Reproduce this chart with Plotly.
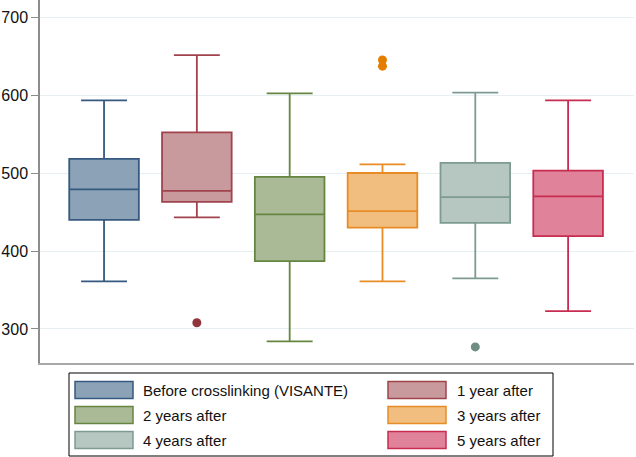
import plotly.graph_objects as go

names = ["Before crosslinking (VISANTE)", "1 year after", "2 years after",
         "3 years after", "4 years after", "5 years after"]
lower = [361, 443, 284, 361, 365, 323]
q1 = [440, 463, 387, 430, 436, 419]
median = [479, 477, 447, 451, 469, 470]
q3 = [518, 552, 495, 500, 513, 503]
upper = [593, 651, 602, 511, 603, 593]
outlier_x = [1, 3, 3, 4]
outlier_y = [308, 637, 645, 277]

fills = ["#8ca3b7", "#c89a9d", "#aaba97", "#f1be7f", "#b6c6c1", "#e0829a"]
lines = ["#35597f", "#a0434d", "#668540", "#e88c26", "#7e9b92", "#c62d50"]
dots = ["#1a476f", "#90353b", "#55752f", "#e37e00", "#6e8e84", "#c10534"]
yticks = [300, 400, 500, 600, 700]

W, H = 636, 457
L, R, T, B = 40, 2, 0, 94
pw, ph = W - L - R, H - T - B


def px_x(p):
    return (p - L) / pw


def px_y(p):
    return (H - B - p) / ph


fig = go.Figure()
for i, n in enumerate(names):
    fig.add_trace(go.Box(
        x=[i], q1=[q1[i]], median=[median[i]], q3=[q3[i]],
        lowerfence=[lower[i]], upperfence=[upper[i]],
        name=n, width=0.75, whiskerwidth=0.66,
        fillcolor=fills[i], line=dict(color=lines[i], width=1.8),
        boxpoints=False, showlegend=False, hoverinfo="skip"))

fig.add_trace(go.Scatter(
    x=outlier_x, y=outlier_y, mode="markers",
    marker=dict(size=9, color=[dots[k] for k in outlier_x]),
    showlegend=False, hoverinfo="skip"))

shapes = [dict(type="rect", xref="paper", yref="paper",
               x0=px_x(69), x1=px_x(553), y0=px_y(456), y1=px_y(373),
               line=dict(color="black", width=1), fillcolor="white", layer="above")]
annotations = []
for i, n in enumerate(names):
    col, row = i % 2, i // 2
    sx = [75, 388][col]
    tx = [141, 455][col]
    cy = 390 + 25 * row
    shapes.append(dict(type="rect", xref="paper", yref="paper",
                       x0=px_x(sx), x1=px_x(sx + 58), y0=px_y(cy + 8.5), y1=px_y(cy - 8.5),
                       line=dict(color=lines[i], width=1.5), fillcolor=fills[i], layer="above"))
    annotations.append(dict(xref="paper", yref="paper", x=px_x(tx), y=px_y(cy),
                            text=n, showarrow=False, xanchor="left", yanchor="middle",
                            font=dict(size=15, color="#111111", family="Liberation Sans, Arial")))

fig.update_layout(
    width=W, height=H, margin=dict(l=L, r=R, t=T, b=B, autoexpand=False),
    paper_bgcolor="white", plot_bgcolor="white",
    shapes=shapes, annotations=annotations,
    font=dict(family="Liberation Sans, Arial", size=16, color="#111111"),
    xaxis=dict(range=[-0.69, 5.71], showticklabels=False, showgrid=False, zeroline=False,
               showline=True, linecolor="#a8a8a8", linewidth=1.5, ticks="", automargin=False),
    yaxis=dict(range=[256.4, 721.8], tickvals=yticks, showgrid=True, gridcolor="#e6eff2",
               gridwidth=1, zeroline=False, showline=True, linecolor="#8c8c8c", linewidth=1.5,
               ticks="outside", ticklen=7, tickcolor="#8c8c8c", tickwidth=1.2,
               automargin=False, tickfont=dict(size=16, color="#111111")),
)

fig.write_html("out.html", config={"displayModeBar": False},
               post_script="document.body.style.margin='0';")
